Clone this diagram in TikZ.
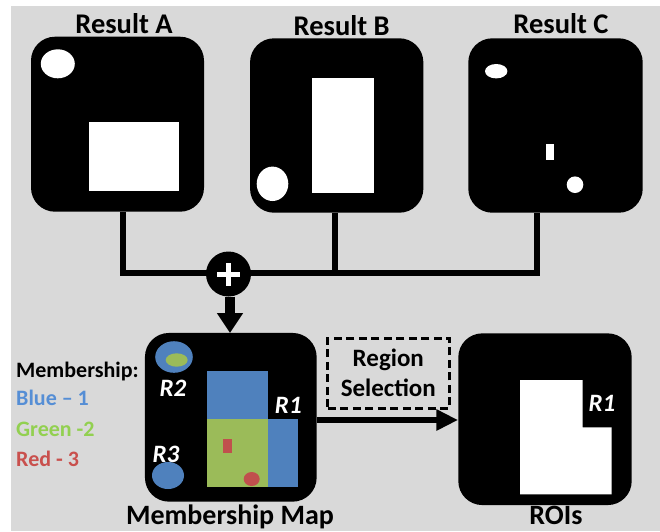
\documentclass[tikz,border=0pt]{standalone}
\usepackage{fontspec}
\setmainfont{Carlito}
\usetikzlibrary{arrows.meta}
\definecolor{bg}{HTML}{D9D9D9}
\definecolor{mblue}{HTML}{4F81BD}
\definecolor{mgreen}{HTML}{9BBB59}
\definecolor{mred}{HTML}{C0504D}
\definecolor{lblue}{HTML}{558ED5}
\definecolor{lgreen}{HTML}{92D050}
\definecolor{lred}{HTML}{C9504D}
\tikzset{
  panel/.style={fill=black, draw=none, rounded corners=24pt, inner sep=0pt},
  title/.style={font=\fontsize{28.5}{31}\selectfont\bfseries, anchor=base, inner sep=0pt},
  legend/.style={font=\fontsize{22}{25}\selectfont\bfseries, anchor=base west, inner sep=0pt},
  rlab/.style={font=\fontsize{25}{28}\selectfont\bfseries\itshape, text=white, anchor=base, inner sep=0pt},
  seltext/.style={font=\fontsize{25}{28}\selectfont\bfseries, anchor=base, inner sep=0pt},
  wire/.style={line width=6.5pt, line join=miter},
  bigarrow/.style={line width=10pt, -{Triangle[length=20pt,width=25pt]}},
  sidearrow/.style={line width=6.7pt, -{Triangle[length=21.7pt,width=20pt]}},
  selbox/.style={draw=black, line width=3.2pt, dash pattern=on 8pt off 4.5pt, minimum width=122pt, minimum height=70pt, inner sep=0pt}
}
\begin{document}
\begin{tikzpicture}[x=1pt,y=-1pt]
\useasboundingbox (0,0) rectangle (660,531);
\fill[bg] (11,6) rectangle (660,531);

% panels
\node[panel, minimum width=173pt, minimum height=175pt] (A) at (117.5,124.2) {};
\node[panel, minimum width=173.3pt, minimum height=174.4pt] (B) at (336.7,125.5) {};
\node[panel, minimum width=174.4pt, minimum height=174.4pt] (C) at (555.5,125.5) {};
\node[panel, minimum width=171.7pt, minimum height=168.7pt] (M) at (230.8,417.3) {};
\node[panel, minimum width=173.4pt, minimum height=171.7pt] (R) at (545,419.2) {};

% titles
\node[title] (tA) at (124,33.3) {Result A};
\node[title] (tB) at (341.7,35) {Result B};
\node[title] (tC) at (561,33.3) {Result C};
\node[title, font=\fontsize{28}{31}\selectfont\bfseries] (tM) at (230,524.5) {Membership Map};
\node[title, font=\fontsize{28}{31}\selectfont\bfseries] (tR) at (556,524.5) {ROIs};

% Result A contents
\fill[white] (57.8,63.8) ellipse [x radius=17, y radius=14.5];
\fill[white] (89.3,122.3) rectangle (178.7,190.7);
% Result B contents
\fill[white] (311.7,78.3) rectangle (374.3,193.3);
\fill[white] (272.5,183.8) ellipse [x radius=15.8, y radius=17.2];
% Result C contents
\fill[white] (496.2,71.2) ellipse [x radius=11.2, y radius=7.2];
\fill[white] (546,144) rectangle (554.3,160);
\fill[white] (575,184.7) circle [radius=8.3];

% connectors
\coordinate (ja) at (123,273);
\coordinate (jc) at (537,273);
\draw[wire] (ja |- A.south) -- (ja) -- (jc) -- (jc |- C.south);
\draw[wire] (B.south -| 335,0) -- (335,273);

\node[circle, fill=black, minimum size=45pt, inner sep=0pt] (plus) at (228.5,274) {};
\draw[white, line width=5pt] ([xshift=-11.5pt]plus.center) -- ([xshift=11.5pt]plus.center);
\draw[white, line width=5pt] ([yshift=-11.5pt]plus.center) -- ([yshift=11.5pt]plus.center);
\draw[bigarrow] (plus.south -| 230,0) -- (230,333);

% membership map contents
\fill[mblue] (174,357) ellipse [x radius=18.8, y radius=15.8];
\fill[mgreen] (176.7,360) ellipse [x radius=11, y radius=6.7];
\fill[mblue] (168,475.5) ellipse [x radius=16, y radius=13.5];
\fill[mblue] (206.7,371) rectangle (268.3,419.3);
\fill[mgreen] (206.7,419.3) rectangle (268.3,486.7);
\fill[mblue] (268.3,419.3) rectangle (298.3,486.7);
\fill[mred] (222.7,439) rectangle (231.7,453.3);
\fill[mred] (251.7,479) ellipse [x radius=8, y radius=7];
\node[rlab] (r2) at (173,396) {R2};
\node[rlab] (r1) at (288.3,413.3) {R1};
\node[rlab] (r3) at (166,462.7) {R3};

% legend
\node[legend] (lm) at (16,377.3) {Membership:};
\node[legend, text=lblue] (lb) at (16,405) {Blue – 1};
\node[legend, text=lgreen] (lg) at (16,436.7) {Green -2};
\node[legend, text=lred] (lr) at (16,466) {Red - 3};

% region selection
\node[selbox] (sel) at (388.8,373.3) {};
\node[seltext] (s1) at (388.3,366.7) {Region};
\node[seltext] (s2) at (388.3,396.7) {Selection};
\draw[sidearrow] (M.east |- 0,420) -- (R.west |- 0,420);

% ROI contents
\fill[white] (520,380) -- (582.7,380) -- (582.7,427.3) -- (611.7,427.3) -- (611.7,494.3) -- (520,494.3) -- cycle;
\node[rlab] (r1b) at (602,411.7) {R1};
\end{tikzpicture}
\end{document}
